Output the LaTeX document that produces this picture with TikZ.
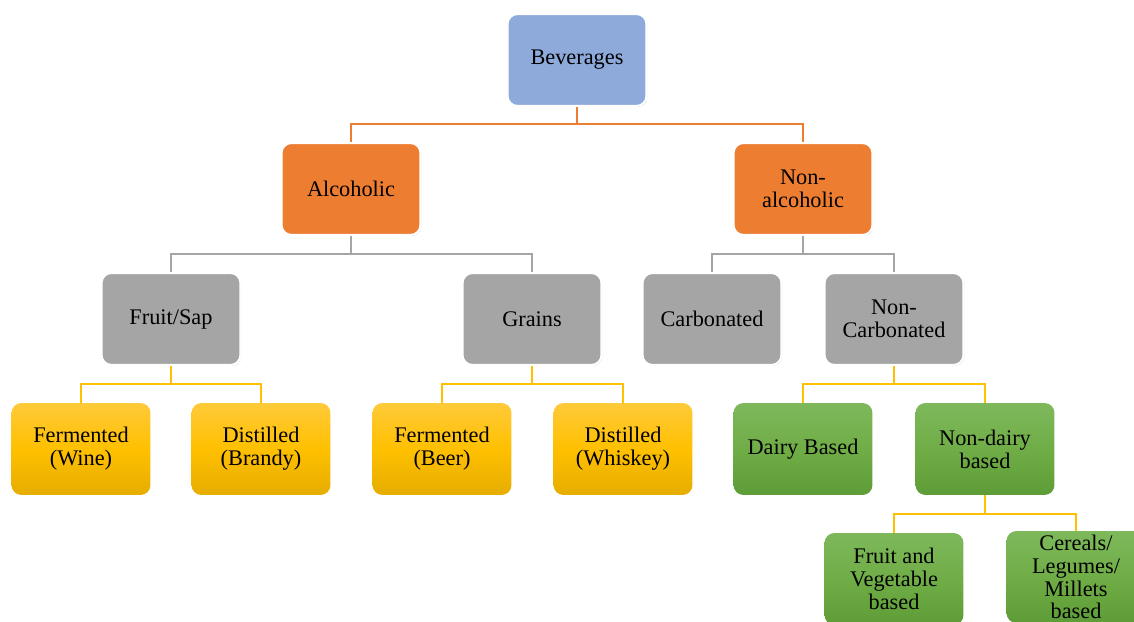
\documentclass[tikz,border=0pt]{standalone}
\usepackage{fontspec}
\setmainfont{Liberation Serif}
\usetikzlibrary{positioning,calc,shadows}
\definecolor{bevblue}{HTML}{8EAADB}
\definecolor{alcorange}{HTML}{ED7D31}
\definecolor{catgray}{HTML}{A5A5A5}
\definecolor{goldtop}{HTML}{FFCA3A}
\definecolor{goldmid}{HTML}{FFC000}
\definecolor{goldbot}{HTML}{E6AD00}
\definecolor{greentop}{HTML}{7DB95B}
\definecolor{greenmid}{HTML}{70AD47}
\definecolor{greenbot}{HTML}{5D9C36}
\tikzset{box/.style = {rectangle, rounded corners=0.2cm, minimum width=2.78cm, minimum height=1.84cm,
                       align=center, inner sep=2pt, font=\fontsize{12.7}{13}\selectfont}}
\tikzset{plainbox/.style = {box, draw=white, line width=1.2pt,
                            drop shadow={opacity=0.3, shadow xshift=0.02cm, shadow yshift=-0.02cm}}}
\tikzset{goldbox/.style = {box, top color=goldtop, bottom color=goldbot, middle color=goldmid}}
\tikzset{greenbox/.style = {box, top color=greentop, bottom color=greenbot, middle color=greenmid}}
\tikzset{link/.style = {line width=1.3pt}}

\begin{document}
\begin{tikzpicture}[x=0.02cm, y=-0.02cm]
                    \useasboundingbox (0,0) rectangle (1134,622);
                    \clip (0,0) rectangle (1134,622);
                    % top levels
                    \node[plainbox, fill=bevblue] (bev) at (577, 60) {Beverages};
                    \node[plainbox, fill=alcorange] (alc) at (351, 189) {Alcoholic};
                    \node[plainbox, fill=alcorange] (nalc) at (803, 189) {Non-\\alcoholic};
                    \node[plainbox, fill=catgray] (fruit) at (171, 319) {Fruit/Sap};
                    \node[plainbox, fill=catgray] (grains) at (532, 319) {Grains};
                    \node[plainbox, fill=catgray] (carb) at (712, 319) {Carbonated};
                    \node[plainbox, fill=catgray] (ncarb) at (894, 319) {Non-\\Carbonated};
                    % leaves
                    \node[goldbox] (wine) at (81, 449) {Fermented\\(Wine)};
                    \node[goldbox] (brandy) at (261, 449) {Distilled\\(Brandy)};
                    \node[goldbox] (beer) at (442, 449) {Fermented\\(Beer)};
                    \node[goldbox] (whiskey) at (623, 449) {Distilled\\(Whiskey)};
                    \node[greenbox] (dairy) at (803, 449) {Dairy Based};
                    \node[greenbox] (ndairy) at (985, 449) {Non-dairy\\based};
                    \node[greenbox] (fveg) at (894, 579) {Fruit and\\Vegetable\\based};
                    \node[greenbox] (cereal) at (1076, 577) {Cereals/\\Legumes/\\Millets\\based};
                    % bus points
                    \coordinate (j1) at (577, 124);
                    \coordinate (j2) at (351, 254);
                    \coordinate (j3) at (803, 254);
                    \coordinate (j4) at (171, 384);
                    \coordinate (j5) at (532, 384);
                    \coordinate (j6) at (894, 384);
                    \coordinate (j7) at (985, 514);
                    \draw[link, alcorange] (bev) -- (j1) -| (alc);
                    \draw[link, alcorange] (j1) -| (nalc);
                    \draw[link, catgray] (alc) -- (j2) -| (fruit);
                    \draw[link, catgray] (j2) -| (grains);
                    \draw[link, catgray] (nalc) -- (j3) -| (carb);
                    \draw[link, catgray] (j3) -| (ncarb);
                    \draw[link, goldmid] (fruit) -- (j4) -| (wine);
                    \draw[link, goldmid] (j4) -| (brandy);
                    \draw[link, goldmid] (grains) -- (j5) -| (beer);
                    \draw[link, goldmid] (j5) -| (whiskey);
                    \draw[link, goldmid] (ncarb) -- (j6) -| (dairy);
                    \draw[link, goldmid] (j6) -| (ndairy);
                    \draw[link, goldmid] (ndairy) -- (j7) -| (fveg);
                    \draw[link, goldmid] (j7) -| (cereal);
                \end{tikzpicture}
\end{document}
